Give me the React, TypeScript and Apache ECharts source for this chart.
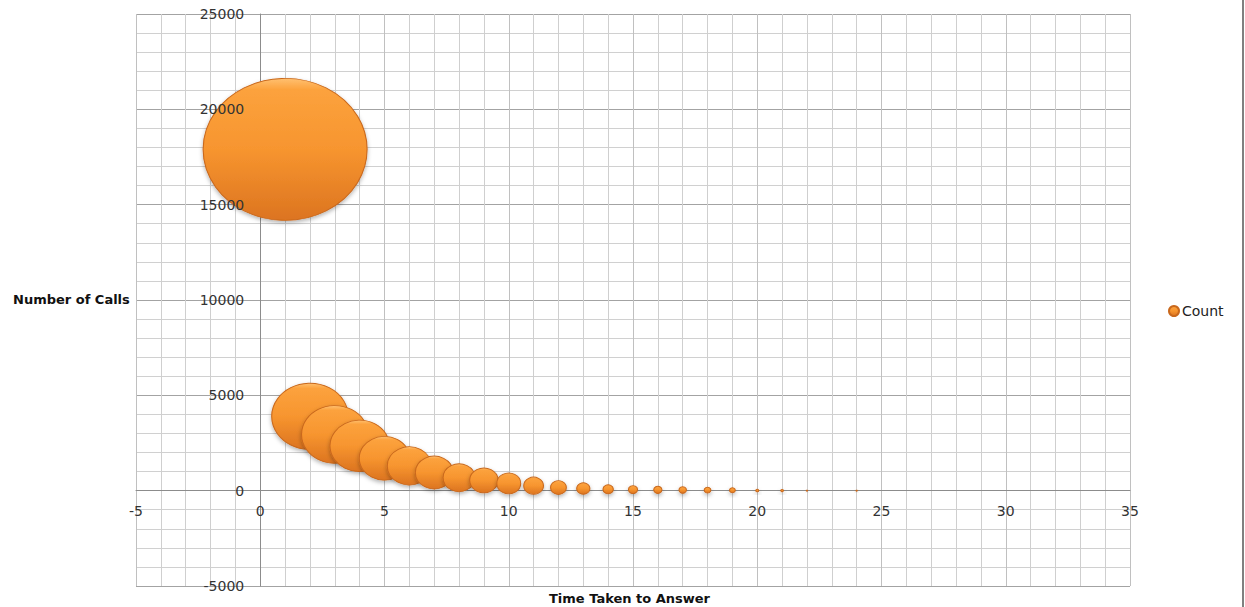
import React, { useEffect, useRef } from "react";
import * as echarts from "echarts";

const seriesName = "Count";
const xTitle = "Time Taken to Answer";
const yTitle = "Number of Calls";
const timeValues = [1, 2, 3, 4, 5, 6, 7, 8, 9, 10, 11, 12, 13, 14, 15, 16, 17, 18, 19, 20, 21, 22, 24];
const callCounts = [17900, 3900, 2950, 2350, 1700, 1300, 950, 680, 540, 380, 260, 165, 115, 72, 55, 45, 37, 30, 22, 6, 5, 1, 1];

const MAX_W = 164;
const ASPECT = 1.155;

const GRID_L = 136;
const GRID_R = 115;
const GRID_T = 14;
const GRID_B = 21;
const W = 1245;
const H = 607;
const X_MIN = -5;
const X_MAX = 35;
const Y_MIN = -5000;
const Y_MAX = 25000;

export default function App() {
  const ref = useRef<HTMLDivElement>(null);
  useEffect(() => {
    if (!ref.current) return;
    const chart = echarts.init(ref.current, undefined, { renderer: "svg" });
    const maxCount = Math.max(...callCounts);
    const data = timeValues.map((t, i) => [t, callCounts[i]]);
    const font = "DejaVu Sans";
    const gw = W - GRID_L - GRID_R;
    const gh = H - GRID_T - GRID_B;
    const xOffset = -(gh * (0 - Y_MIN)) / (Y_MAX - Y_MIN);
    const yOffset = -(gw * (0 - X_MIN)) / (X_MAX - X_MIN);
    const labelStyle = { fontFamily: font, fontSize: 14, color: "#333" };
    chart.setOption({
      animation: false,
      backgroundColor: "#ffffff",
      textStyle: { fontFamily: font },
      grid: {
        left: GRID_L,
        right: GRID_R,
        top: GRID_T,
        bottom: GRID_B,
        containLabel: false,
        outerBoundsMode: "none",
      },
      legend: {
        data: [seriesName],
        left: 1163,
        top: 299,
        orient: "vertical",
        itemWidth: 10,
        itemHeight: 10,
        icon: "circle",
        textStyle: { fontFamily: font, fontSize: 14, color: "#222", padding: [0, 0, 0, -2] },
      },
      xAxis: {
        type: "value",
        min: X_MIN,
        max: X_MAX,
        interval: 5,
        position: "bottom",
        offset: xOffset,
        axisLine: { onZero: false, lineStyle: { color: "#8c8c8c", width: 1 } },
        axisTick: { show: false },
        axisLabel: { ...labelStyle, margin: 13, formatter: (v: number) => String(v) },
        splitLine: { show: true, lineStyle: { color: "#c0c0c0", width: 1 } },
        minorTick: { show: false, splitNumber: 5 },
        minorSplitLine: { show: true, lineStyle: { color: "#cfcfcf", width: 1 } },
      },
      yAxis: [
        {
          type: "value",
          min: Y_MIN,
          max: Y_MAX,
          interval: 5000,
          position: "left",
          offset: yOffset,
          axisLine: { show: true, onZero: false, lineStyle: { color: "#8c8c8c", width: 1 } },
          axisTick: { show: false },
          axisLabel: { show: false },
          splitLine: { show: true, lineStyle: { color: "#a3a3a3", width: 1 } },
          minorTick: { show: false, splitNumber: 5 },
          minorSplitLine: { show: true, lineStyle: { color: "#d0d0d0", width: 1 } },
        },
        {
          type: "value",
          min: Y_MIN,
          max: Y_MAX,
          interval: 5000,
          position: "left",
          offset: yOffset,
          z: 10,
          axisLine: { show: false, onZero: false },
          axisTick: { show: false },
          axisLabel: { ...labelStyle, margin: 16, formatter: (v: number) => String(v) },
          splitLine: { show: false },
        },
      ],
      series: [
        {
          name: seriesName,
          type: "scatter",
          yAxisIndex: 0,
          data,
          symbol: "circle",
          symbolSize: (v: number[]) => {
            const w = MAX_W * Math.sqrt(v[1] / maxCount);
            return [w, w / ASPECT];
          },
          itemStyle: {
            color: {
              type: "linear",
              x: 0,
              y: 0,
              x2: 0,
              y2: 1,
              colorStops: [
                { offset: 0, color: "#ffc070" },
                { offset: 0.08, color: "#fca23d" },
                { offset: 0.5, color: "#f7952f" },
                { offset: 1, color: "#dc7420" },
              ],
            },
            borderColor: "#c9681c",
            borderWidth: 1,
            shadowBlur: 4,
            shadowColor: "rgba(0,0,0,0.3)",
            shadowOffsetY: 2,
            opacity: 1,
          },
        },
      ],
      graphic: [
        {
          type: "text",
          left: 13,
          top: 293,
          style: { text: yTitle, font: `bold 13px '${font}'`, fill: "#111" },
        },
        {
          type: "text",
          left: 549,
          top: 592,
          style: { text: xTitle, font: `bold 13px '${font}'`, fill: "#111" },
        },
        {
          type: "rect",
          shape: { x: 1242, y: 0, width: 2, height: 607 },
          style: { fill: "#808080" },
        },
      ],
    });
    return () => chart.dispose();
  }, []);
  return (
    <div
      ref={ref}
      style={{ position: "fixed", left: 0, top: 0, width: W, height: H }}
    />
  );
}
